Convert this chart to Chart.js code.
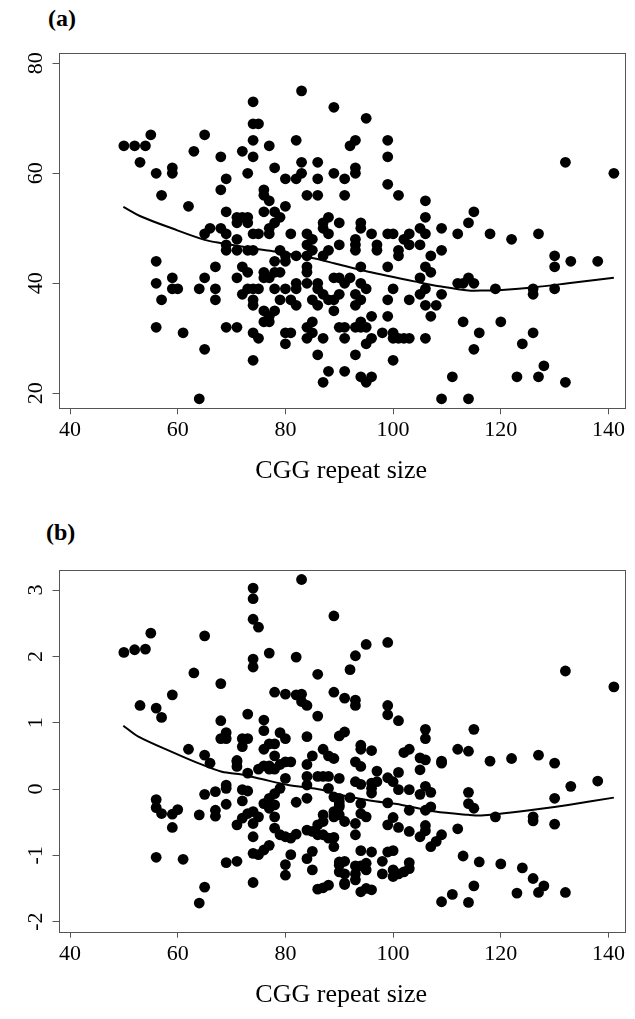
<!DOCTYPE html>
<html>
<head>
<meta charset="utf-8">
<script src="https://cdn.jsdelivr.net/npm/chart.js@4.4.1/dist/chart.umd.min.js"></script>
<style>
body { margin: 0; background: #fff; }
.wrap { position: relative; width: 635px; height: 1019px; }
canvas { position: absolute; left: 0; }
.tag { position: absolute; font: bold 24px "Liberation Serif", serif; color: #000; }
</style>
</head>
<body>
<div class="wrap">
  <div class="tag" style="left:48px;top:5px">(a)</div>
  <canvas id="chartA" width="635" height="509" style="top:0"></canvas>
  <div class="tag" style="left:46px;top:519px">(b)</div>
  <canvas id="chartB" width="635" height="510" style="top:509px"></canvas>
</div>
<script>
// tick labels
const xTicks = [40, 60, 80, 100, 120, 140];
const yTicksA = [20, 40, 60, 80];
const yTicksB = [-2, -1, 0, 1, 2, 3];
const xTitle = 'CGG repeat size';

// panel (a): [CGG repeat size, score]
const pointsA = [
  [50,65],[52,65],[54,65],[55,67],[53,62],[56,60],[59,61],[59,60],[57,56],[62,54],
  [63,64],[65,67],[68,63],[69,59],[68,57],[69,53],[72,64],[74,63],[74,66],[74,69],
  [75,69],[74,73],[73,60],[77,65],[78,61],[76,57],[76,56],[77,55],[80,59],[82,59],
  [83,60],[82,66],[83,75],[83,62],[86,62],[86,59],[84,56],[86,56],[80,54],[76,53],
  [78,53],[79,52],[78,51],[89,72],[89,60],[91,59],[91,56],[90,51],[88,52],[87,51],
  [87,50],[88,49],[90,47],[71,52],[72,52],[73,52],[71,51],[73,51],[66,50],[65,49],
  [68,50],[69,49],[74,49],[75,49],[77,49],[77,50],[81,49],[84,49],[85,48],[84,47],
  [69,47],[71,48],[69,46],[71,46],[73,46],[74,46],[79,46],[80,45],[82,45],[84,45],
  [85,46],[87,45],[88,46],[56,44],
  [95,70],[92,65],[93,66],[99,66],[99,63],[93,61],[93,60],[99,58],[101,56],[106,55],
  [106,52],[115,53],[114,51],[94,51],[94,50],[96,49],[99,49],[100,49],[103,49],[102,48],
  [105,50],[106,49],[109,50],[112,49],[118,49],[122,48],[127,49],[132,62],[141,60],[93,48],
  [93,47],[93,46],[97,47],[97,46],[101,46],[101,45],[103,47],[105,47],[107,45],[109,46],
  [130,45],[133,44],[138,44],
  [56,40],[59,41],[59,39],[60,39],[57,37],[56,32],[61,31],[64,39],[65,41],[67,43],
  [67,39],[67,37],[65,28],[64,19],[69,32],[71,32],[71,41],[72,43],[73,42],[72,38],
  [73,39],[74,39],[75,39],[74,37],[74,36],[76,42],[76,41],[77,41],[78,42],[79,42],
  [78,39],[80,39],[76,35],[78,35],[77,34],[76,33],[77,33],[74,31],[75,30],[74,26],
  [79,37],[80,31],[81,31],[80,29],[81,37],[82,36],[82,40],[82,39],[84,40],[84,43],
  [84,42],[86,40],[86,39],[85,37],[86,36],[87,38],[88,37],[89,37],[89,35],[90,38],
  [89,41],[90,41],[91,40],[85,33],[84,32],[85,31],[84,30],[87,30],[86,27],[88,24],
  [87,22],[91,24],[90,32],[91,30],[78,44],[80,44],
  [130,43],[94,43],[99,43],[106,43],[107,42],[105,41],[92,41],[94,40],[95,39],[100,39],
  [105,38],[106,39],[109,38],[112,40],[114,41],[115,40],[113,40],[119,39],[126,39],[126,38],
  [130,39],[93,38],[93,36],[94,37],[99,37],[103,37],[106,36],[108,36],[107,34],[96,34],
  [99,34],[91,32],[93,32],[94,33],[95,32],[94,32],[98,31],[100,31],[100,30],[101,30],
  [102,30],[103,30],[96,30],[95,29],[93,27],[100,26],[106,30],[94,23],[95,22],[96,23],
  [109,19],[111,23],[114,19],[113,33],[116,31],[115,28],[120,33],[126,31],[124,29],[128,25],
  [123,23],[127,23],[132,22]
];
const curveA = [
  [49.9,53.9],[53.3,52.1],[58.9,50.0],[65,47.9],[68.2,47.3],[74.4,46.3],[78,45.8],
  [85.5,44.5],[89.2,43.6],[95.4,42.1],[104.7,40.2],[109,39.4],[114,38.7],[117,38.7],
  [120.2,38.8],[126.4,39.3],[132.5,40.0],[141,41.0]
];

// panel (b): [CGG repeat size, adjusted score]
const pointsB = [
  [50,2.06],[52,2.10],[54,2.11],[55,2.35],[53,1.26],[56,1.22],[57,1.08],[59,1.42],[63,1.75],[65,2.31],
  [68,1.59],[68,1.03],[69,0.85],[68,0.76],[69,0.76],[73,1.13],[74,1.96],[74,1.84],[74,3.03],[74,2.87],
  [74,2.56],[75,2.44],[77,2.05],[76,1.04],[76,0.88],[72,0.76],[73,0.76],[72,0.64],[76,0.60],[77,0.68],
  [78,0.68],[78,0.50],[78,1.46],[80,1.43],[82,1.42],[83,1.43],[83,1.32],[84,1.26],[82,1.99],[83,3.16],
  [86,1.73],[86,1.10],[84,0.79],[79,0.85],[80,0.76],[89,2.61],[89,1.46],[91,1.37],[90,0.80],[91,0.86],
  [87,0.60],[88,0.50],[85,0.50],[62,0.60],[65,0.51],[66,0.39],[71,0.43],[76,0.35],[77,0.35],[80,0.41],
  [81,0.41],[84,0.37],
  [95,2.18],[99,2.21],[93,2.01],[92,1.80],[132,1.78],[141,1.54],[93,1.34],[93,1.26],[99,1.26],[99,1.12],
  [101,1.03],[106,0.90],[106,0.76],[115,0.90],[94,0.66],[94,0.60],[96,0.58],[102,0.55],[103,0.60],[105,0.47],
  [106,0.44],[109,0.42],[112,0.60],[114,0.57],[118,0.42],[122,0.46],[127,0.51],[130,0.39],[93,0.41],
  [56,-0.16],[56,-0.28],[57,-0.37],[59,-0.38],[60,-0.31],[59,-0.58],[56,-1.03],[61,-1.06],[64,-0.39],[65,-0.08],
  [67,-0.04],[67,-0.32],[67,-0.41],[69,0.06],[69,0.01],[69,-0.23],[65,-1.48],[64,-1.72],[69,-1.11],[71,-1.09],
  [71,0.41],[71,0.34],[72,-0.01],[73,-0.03],[72,-0.18],[71,-0.54],[72,-0.44],[73,-0.37],[74,-0.34],[74,-0.52],
  [74,-0.72],[74,-0.97],[74,-1.41],[75,-0.99],[76,-0.92],[77,-0.85],[73,0.24],[75,0.30],[77,0.30],[78,0.30],
  [79,0.37],[76,-0.22],[77,-0.14],[78,-0.07],[79,0.01],[77,-0.29],[78,-0.24],[75,-0.42],[78,-0.42],[78,-0.59],
  [79,-0.69],[80,-0.72],[81,-0.74],[82,-0.68],[80,-1.14],[80,-1.30],[81,-0.99],[80,0.16],[82,-0.20],[84,-0.14],
  [84,0.19],[84,0.06],[86,0.19],[87,0.19],[88,0.19],[90,0.16],[88,0.01],[84,-0.62],[85,-0.64],[86,-0.54],
  [87,-0.49],[87,-0.39],[86,-0.69],[87,-0.69],[88,-0.74],[89,-0.87],[89,-0.42],[90,-0.39],[90,-0.14],[90,-0.24],
  [85,-0.94],[84,-1.05],[85,-1.22],[86,-1.51],[87,-1.49],[88,-1.45],[90,-1.15],[90,-1.25],[91,-1.44],[89,0.46],
  [94,0.34],[97,0.27],[101,0.25],[105,0.29],[109,0.39],[93,0.11],[94,0.07],[96,0.09],[97,0.11],[96,0.01],
  [96,-0.06],[99,0.17],[100,0.11],[101,-0.01],[103,-0.01],[106,0.04],[107,-0.05],[105,-0.08],[89,-0.12],[90,-0.19],
  [92,-0.13],[94,-0.22],[89,-0.34],[90,-0.27],[91,-0.49],[94,-0.37],[95,-0.42],[99,-0.21],[103,-0.32],[106,-0.32],
  [107,-0.27],[93,-0.52],[99,-0.54],[100,-0.43],[101,-0.58],[103,-0.64],[106,-0.55],[106,-0.63],[105,-0.72],[109,-0.69],
  [108,-0.79],[107,-0.87],[93,-0.69],[89,-0.73],[94,-0.93],[96,-0.95],[99,-0.95],[100,-0.93],[98,-1.09],[90,-1.10],
  [91,-1.09],[93,-1.16],[94,-1.16],[95,-1.12],[95,-1.22],[98,-1.28],[100,-1.22],[100,-1.32],[101,-1.28],[102,-1.25],
  [103,-1.20],[103,-1.11],[91,-1.28],[93,-1.28],[93,-1.37],[91,-1.42],[94,-1.55],[95,-1.50],[96,-1.52],[112,-0.60],
  [114,-0.05],[114,-0.22],[115,-0.29],[119,-0.42],[126,-0.42],[126,-0.48],[130,-0.14],[130,-0.53],[133,0.04],[138,0.12],
  [113,-1.01],[116,-1.10],[120,-1.13],[124,-1.19],[126,-1.35],[128,-1.46],[127,-1.56],[123,-1.57],[132,-1.56],[115,-1.46],
  [111,-1.59],[109,-1.70],[114,-1.71]
];
const curveB = [
  [49.9,0.955],[52.7,0.79],[58.9,0.56],[63.8,0.39],[68.2,0.26],[71.9,0.22],[75.6,0.15],
  [80.5,0.06],[86.7,-0.01],[89.2,-0.07],[95.4,-0.17],[101.6,-0.24],[107.8,-0.34],[114,-0.39],
  [116.4,-0.40],[120.2,-0.37],[126.4,-0.31],[132.5,-0.24],[141,-0.13]
];

const axisColor = '#555';
const serif = '"Liberation Serif", "Times New Roman", serif';

// box around the plot and R-style rotated y labels
const frame = {
  id: 'frame',
  afterDraw(chart) {
    const a = chart.chartArea;
    const ctx = chart.ctx;
    ctx.save();
    ctx.strokeStyle = axisColor;
    ctx.lineWidth = 1;
    ctx.strokeRect(Math.round(a.left) + 0.5, Math.round(a.top) + 0.5,
      Math.round(a.right - a.left), Math.round(a.bottom - a.top));
    const ys = chart.scales.y;
    ctx.fillStyle = '#000';
    ctx.font = '22px ' + serif;
    ctx.textAlign = 'center';
    ctx.textBaseline = 'middle';
    ys.ticks.forEach(t => {
      ctx.save();
      ctx.translate(a.left - 22, ys.getPixelForValue(t.value));
      ctx.rotate(-Math.PI / 2);
      ctx.fillText(String(t.value), 0, 0);
      ctx.restore();
    });
    ctx.restore();
  }
};

function makeChart(id, points, curve, yTicks, o) {
  const grid = {
    drawOnChartArea: false,
    drawTicks: true,
    tickLength: 6,
    color: axisColor,
    lineWidth: 1
  };
  return new Chart(id, {
    type: 'scatter',
    data: {
      datasets: [
        {
          data: points.map(p => ({ x: p[0], y: p[1] })),
          backgroundColor: '#000',
          borderWidth: 0,
          pointRadius: 5.4,
          pointHoverRadius: 5.4
        },
        {
          type: 'line',
          data: curve.map(p => ({ x: p[0], y: p[1] })),
          borderColor: '#000',
          borderWidth: 2,
          pointRadius: 0,
          tension: 0.3,
          fill: false
        }
      ]
    },
    options: {
      responsive: false,
      animation: false,
      devicePixelRatio: 1,
      layout: { padding: { top: o.top, right: 11, bottom: 0, left: 0 } },
      plugins: { legend: { display: false }, tooltip: { enabled: false } },
      scales: {
        x: {
          type: 'linear',
          min: 37.86,
          max: 142.88,
          afterBuildTicks: s => { s.ticks = xTicks.map(v => ({ value: v })); },
          afterFit: s => { s.height = o.xh; },
          grid: grid,
          border: { display: false },
          ticks: { color: '#000', font: { family: serif, size: 22 }, padding: 3, maxRotation: 0 },
          title: {
            display: true,
            text: xTitle,
            color: '#000',
            font: { family: serif, size: 26 },
            padding: { top: 0, bottom: o.titlePad }
          }
        },
        y: {
          min: o.yMin,
          max: o.yMax,
          afterBuildTicks: s => { s.ticks = yTicks.map(v => ({ value: v })); },
          afterFit: s => { s.width = 58.5; },
          grid: grid,
          border: { display: false },
          ticks: { color: 'transparent' }
        }
      }
    },
    plugins: [frame]
  });
}

makeChart('chartA', pointsA, curveA, yTicksA,
  { top: 53.3, xh: 100.7, yMin: 17.27, yMax: 81.82, titlePad: 22 });
makeChart('chartB', pointsB, curveB, yTicksB,
  { top: 61, xh: 87.3, yMin: -2.152, yMax: 3.303, titlePad: 8 });
</script>
</body>
</html>
